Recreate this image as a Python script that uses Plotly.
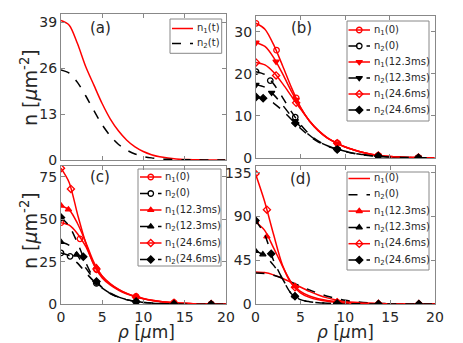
import plotly.graph_objects as go

# === Data ===
rho = list(range(0, 21))
marker_tail = [9.1, 13.7, 18.2]

# panel (a)
a_n1 = [39.5, 38.2, 33.0, 26.5, 21.2, 16.0, 11.6, 8.2, 5.6, 3.7, 2.4, 1.5, 0.9, 0.55, 0.3, 0.16, 0.08, 0.04, 0.02, 0.01, 0.0]
a_n2 = [25.5, 24.6, 22.0, 18.2, 14.0, 10.0, 6.8, 4.4, 2.8, 1.7, 1.0, 0.6, 0.33, 0.18, 0.1, 0.05, 0.03, 0.01, 0.0, 0.0, 0.0]

# panel (b)
b_n1_0 = [32.0, 30.6, 26.8, 21.8, 16.6, 12.0, 8.7, 6.4, 4.7, 3.6, 2.6, 1.9, 1.3, 0.85, 0.55, 0.35, 0.22, 0.14, 0.09, 0.05, 0.03]
b_n1_12 = [27.4, 26.5, 23.8, 19.9, 15.7, 11.9, 8.8, 6.5, 4.8, 3.6, 2.6, 1.9, 1.3, 0.85, 0.55, 0.35, 0.22, 0.14, 0.09, 0.05, 0.03]
b_n1_24 = [22.7, 22.1, 20.3, 17.6, 14.6, 11.6, 8.8, 6.5, 4.8, 3.6, 2.6, 1.9, 1.3, 0.85, 0.55, 0.35, 0.22, 0.14, 0.09, 0.05, 0.03]
b_n2_0 = [20.5, 19.8, 17.5, 14.3, 10.9, 7.9, 5.6, 4.0, 2.9, 2.2, 1.6, 1.1, 0.8, 0.55, 0.38, 0.25, 0.16, 0.1, 0.07, 0.04, 0.02]
b_n2_12 = [17.4, 16.8, 15.0, 12.5, 9.8, 7.4, 5.4, 3.9, 2.9, 2.2, 1.6, 1.1, 0.8, 0.55, 0.38, 0.25, 0.16, 0.1, 0.07, 0.04, 0.02]
b_n2_24 = [14.5, 14.1, 13.0, 11.2, 9.1, 7.0, 5.2, 3.8, 2.8, 2.1, 1.5, 1.05, 0.75, 0.52, 0.36, 0.24, 0.15, 0.1, 0.06, 0.04, 0.02]
b_mx = {'n1_0': [0, 2.3, 4.5], 'n1_12': [0, 2.25, 4.5], 'n1_24': [0, 2.25, 4.5],
        'n2_0': [0, 1.6, 4.4], 'n2_12': [0, 1.75, 4.4], 'n2_24': [0, 0.8, 4.4]}
b_my = {'n1_0': [32.0, 25.6, 14.3, 3.6, 0.6, 0.1], 'n1_12': [27.4, 22.9, 13.8, 3.5, 0.6, 0.1],
        'n1_24': [22.7, 19.6, 13.1, 3.5, 0.6, 0.1], 'n2_0': [20.5, 18.4, 9.7, 2.1, 0.45, 0.07],
        'n2_12': [17.4, 15.5, 8.8, 2.1, 0.45, 0.07], 'n2_24': [14.5, 14.2, 8.3, 2.0, 0.45, 0.07]}

# panel (c)
c_n1_0 = [48.0, 46.5, 41.5, 34.0, 23.5, 16.5, 12.0, 8.7, 6.4, 4.7, 3.4, 2.4, 1.7, 1.15, 0.8, 0.55, 0.37, 0.25, 0.17, 0.11, 0.07]
c_n1_12 = [58.0, 55.5, 47.5, 36.5, 24.5, 16.5, 11.8, 8.6, 6.3, 4.6, 3.3, 2.4, 1.7, 1.15, 0.8, 0.55, 0.37, 0.25, 0.17, 0.11, 0.07]
c_n1_24 = [80.0, 71.5, 53.0, 36.0, 23.0, 15.5, 11.2, 8.2, 6.0, 4.4, 3.2, 2.3, 1.6, 1.1, 0.78, 0.53, 0.36, 0.24, 0.16, 0.1, 0.06]
c_n2_0 = [30.2, 28.6, 24.2, 18.6, 13.5, 9.5, 6.4, 4.2, 2.7, 1.75, 1.1, 0.7, 0.45, 0.28, 0.17, 0.1, 0.06, 0.04, 0.02, 0.01, 0.0]
c_n2_12 = [36.6, 34.6, 28.6, 21.4, 14.8, 9.9, 6.5, 4.2, 2.7, 1.75, 1.1, 0.7, 0.45, 0.28, 0.17, 0.1, 0.06, 0.04, 0.02, 0.01, 0.0]
c_n2_24 = [51.0, 46.0, 36.0, 24.5, 15.0, 9.6, 6.2, 4.0, 2.6, 1.7, 1.1, 0.7, 0.45, 0.28, 0.17, 0.1, 0.06, 0.04, 0.02, 0.01, 0.0]
c_mx = {'n1_0': [0, 2.3, 4.3], 'n1_12': [0, 0.9, 4.3], 'n1_24': [0, 1.2, 4.3],
        'n2_0': [0, 1.1, 4.3], 'n2_12': [0, 1.9, 4.3], 'n2_24': [0, 2.7, 4.3]}
c_my = {'n1_0': [48.0, 38.5, 20.4, 4.6, 0.9, 0.16], 'n1_12': [58.0, 55.7, 21.8, 4.5, 0.9, 0.16],
        'n1_24': [80.0, 67.8, 20.8, 4.3, 0.9, 0.16], 'n2_0': [30.2, 28.2, 12.3, 1.6, 0.2, 0.02],
        'n2_12': [36.6, 29.2, 13.0, 1.6, 0.2, 0.02], 'n2_24': [51.0, 27.9, 13.4, 1.6, 0.2, 0.02]}

# panel (d)
d_n1_0 = [33.0, 32.3, 30.0, 26.5, 22.0, 17.5, 13.0, 9.3, 6.3, 4.2, 2.7, 1.7, 1.05, 0.65, 0.4, 0.24, 0.14, 0.08, 0.05, 0.03, 0.02]
d_n2_0 = [32.0, 31.5, 29.5, 26.5, 22.5, 18.5, 14.5, 11.0, 8.0, 5.6, 3.8, 2.5, 1.6, 1.0, 0.6, 0.36, 0.21, 0.12, 0.07, 0.04, 0.02]
d_n1_12 = [84.6, 76.0, 58.0, 39.0, 22.0, 13.0, 8.3, 5.5, 3.7, 2.5, 1.7, 1.1, 0.7, 0.45, 0.28, 0.17, 0.1, 0.06, 0.04, 0.02, 0.01]
d_n1_24 = [134.0, 106.0, 72.0, 40.0, 21.0, 11.5, 6.8, 4.3, 2.8, 1.9, 1.3, 0.85, 0.55, 0.35, 0.22, 0.14, 0.08, 0.05, 0.03, 0.02, 0.01]
d_n2_12 = [54.5, 50.0, 40.0, 26.0, 10.5, 4.5, 2.4, 1.4, 0.9, 0.6, 0.38, 0.24, 0.15, 0.09, 0.06, 0.04, 0.02, 0.01, 0.0, 0.0, 0.0]
d_n2_24 = [86.0, 72.0, 45.0, 26.0, 10.5, 4.5, 2.4, 1.4, 0.9, 0.6, 0.38, 0.24, 0.15, 0.09, 0.06, 0.04, 0.02, 0.01, 0.0, 0.0, 0.0]
d_mx = {'n1_12': [0, 1.27, 4.4], 'n1_24': [0, 1.27, 4.4], 'n2_12': [0, 0.82, 4.4], 'n2_24': [0, 1.75, 4.4]}
d_my = {'n1_12': [84.6, 69.4, 18.4, 2.3, 0.35, 0.04], 'n1_24': [134.0, 97.0, 17.2, 1.8, 0.3, 0.04],
        'n2_12': [54.5, 51.0, 8.1, 0.55, 0.06, 0.0], 'n2_24': [86.0, 51.7, 8.1, 0.55, 0.06, 0.0]}

labels = {'n1_0': 'n<sub>1</sub>(0)', 'n2_0': 'n<sub>2</sub>(0)',
          'n1_12': 'n<sub>1</sub>(12.3ms)', 'n2_12': 'n<sub>2</sub>(12.3ms)',
          'n1_24': 'n<sub>1</sub>(24.6ms)', 'n2_24': 'n<sub>2</sub>(24.6ms)',
          'n1_t': 'n<sub>1</sub>(t)', 'n2_t': 'n<sub>2</sub>(t)'}

RED = '#ff0000'
BLACK = '#000000'
FONT = 'DejaVu Sans'
TXT = '#262626'
BOX = '#888888'

# page is offset by the 8px body margin, so work in page pixels
W, H, OFF = 463, 343, 8


def fx(px):
    return (px - OFF) / W


def fy(py):
    return 1 - (py - OFF) / H


fig = go.Figure()
axes = {'a': ('x', 'y'), 'b': ('x2', 'y2'), 'c': ('x3', 'y3'), 'd': ('x4', 'y4')}
legend_items = {'a': [], 'b': [], 'c': [], 'd': []}


def style(key, symbol):
    col = RED if key.startswith('n1') else BLACK
    dash = 'solid' if col == RED else 'dash'
    mk = dict(symbol=symbol, size=5.5, color=col, line=dict(color=col, width=1.3)) if symbol else None
    return col, dash, mk


def add(panel, key, yline, symbol=None, mx=None, my=None):
    xa, ya = axes[panel]
    col, dash, mk = style(key, symbol)
    fig.add_trace(go.Scatter(x=rho, y=yline, mode='lines', xaxis=xa, yaxis=ya,
                             line=dict(color=col, width=1.5, dash=dash, shape='spline', smoothing=0.8),
                             showlegend=False, hoverinfo='skip'))
    if symbol:
        fig.add_trace(go.Scatter(x=mx + marker_tail, y=my, mode='markers', xaxis=xa, yaxis=ya,
                                 marker=mk, showlegend=False, hoverinfo='skip'))
    legend_items[panel].append((key, col, dash, mk))


add('a', 'n1_t', a_n1)
add('a', 'n2_t', a_n2)

b_sym = {'n1_0': 'circle-open', 'n2_0': 'circle-open', 'n1_12': 'triangle-down', 'n2_12': 'triangle-down',
         'n1_24': 'diamond-open', 'n2_24': 'diamond'}
for key, yl in [('n1_0', b_n1_0), ('n2_0', b_n2_0), ('n1_12', b_n1_12),
                ('n2_12', b_n2_12), ('n1_24', b_n1_24), ('n2_24', b_n2_24)]:
    add('b', key, yl, b_sym[key], b_mx[key], b_my[key])

c_sym = {'n1_0': 'circle-open', 'n2_0': 'circle-open', 'n1_12': 'triangle-up', 'n2_12': 'triangle-up',
         'n1_24': 'diamond-open', 'n2_24': 'diamond'}
for key, yl in [('n1_0', c_n1_0), ('n2_0', c_n2_0), ('n1_12', c_n1_12),
                ('n2_12', c_n2_12), ('n1_24', c_n1_24), ('n2_24', c_n2_24)]:
    add('c', key, yl, c_sym[key], c_mx[key], c_my[key])

add('d', 'n1_0', d_n1_0)
add('d', 'n2_0', d_n2_0)
d_sym = {'n1_12': 'triangle-up', 'n2_12': 'triangle-up', 'n1_24': 'diamond-open', 'n2_24': 'diamond'}
for key, yl in [('n1_12', d_n1_12), ('n2_12', d_n2_12), ('n1_24', d_n1_24), ('n2_24', d_n2_24)]:
    add('d', key, yl, d_sym[key], d_mx[key], d_my[key])

# === Legends (MATLAB-style boxes, drawn on a pixel overlay axis) ===
# panel: box (x0, y0, x1, y1), sample line x0/x1, text x, first row y, row step
leg_layout = {'a': ((170, 19, 221.7, 53.3), 172, 193, 195, 28.5, 15.0),
              'b': ((347, 21, 429, 121), 348.5, 370, 371.5, 30, 16.0),
              'c': ((138, 169, 221, 266), 140, 161.5, 163, 177, 16.5),
              'd': ((347, 172, 429, 270), 348.5, 370, 371.5, 178.5, 16.3)}
shapes = []
ann = []
for panel, (box, sx0, sx1, tx, ry0, dy) in leg_layout.items():
    shapes.append(dict(type='rect', xref='x5', yref='y5', x0=box[0], y0=box[1], x1=box[2], y1=box[3],
                       line=dict(color=BOX, width=1), fillcolor='rgba(0,0,0,0)', layer='above'))
    for i, (key, col, dash, mk) in enumerate(legend_items[panel]):
        ry = ry0 + i * dy
        fig.add_trace(go.Scatter(x=[sx0, sx1], y=[ry, ry], mode='lines', xaxis='x5', yaxis='y5',
                                 line=dict(color=col, width=1.5, dash=dash), showlegend=False, hoverinfo='skip'))
        if mk:
            fig.add_trace(go.Scatter(x=[(sx0 + sx1) / 2], y=[ry], mode='markers', xaxis='x5', yaxis='y5',
                                     marker=mk, showlegend=False, hoverinfo='skip'))
        ann.append(dict(text=labels[key], x=tx, y=ry, xref='x5', yref='y5', showarrow=False,
                        xanchor='left', yanchor='middle', font=dict(size=10, color=TXT)))


# === Axes ===
def xax(x0, x1, y_anchor, labels_on):
    return dict(domain=[fx(x0), fx(x1)], anchor=y_anchor, range=[0, 20], tickvals=[0, 5, 10, 15, 20],
                showticklabels=labels_on, ticks='inside', ticklen=4, tickcolor=BOX,
                showline=True, linecolor=BOX, linewidth=1, mirror='ticks',
                showgrid=False, zeroline=False, tickfont=dict(size=14, color=TXT), automargin=False)


def yax(y_top, y_bot, x_anchor, top, tv):
    return dict(domain=[fy(y_bot), fy(y_top)], anchor=x_anchor, range=[0, top], tickvals=tv,
                ticks='inside', ticklen=4, tickcolor=BOX,
                showline=True, linecolor=BOX, linewidth=1, mirror='ticks',
                showgrid=False, zeroline=False, tickfont=dict(size=14, color=TXT), automargin=False)


fig.update_layout(
    width=W, height=H, margin=dict(l=0, r=0, t=0, b=0),
    paper_bgcolor='white', plot_bgcolor='rgba(0,0,0,0)',
    font=dict(family=FONT, color=TXT), showlegend=False,
    xaxis=xax(61, 225.5, 'y', False), yaxis=yax(13.5, 160, 'x', 41.5, [0, 13, 26, 39]),
    xaxis2=xax(256, 434.5, 'y2', False), yaxis2=yax(15.7, 158, 'x2', 33.8, [0, 10, 20, 30]),
    xaxis3=xax(61, 226, 'y3', True), yaxis3=yax(166, 304.3, 'x3', 81.3, [0, 25, 50, 75]),
    xaxis4=xax(255.5, 435, 'y4', True), yaxis4=yax(166, 304, 'x4', 142, [0, 45, 90, 135]),
    xaxis5=dict(domain=[0, 1], anchor='y5', range=[OFF, OFF + W], visible=False, fixedrange=True),
    yaxis5=dict(domain=[0, 1], anchor='x5', range=[OFF + H, OFF], visible=False, fixedrange=True),
)

# === Text ===
for txt, px, py in [('(a)', 100, 28), ('(b)', 301.7, 28.3), ('(c)', 100, 176.7), ('(d)', 300, 179.3)]:
    ann.append(dict(text=txt, x=fx(px), y=fy(py), xref='paper', yref='paper', showarrow=False,
                    xanchor='center', yanchor='middle', font=dict(size=15, color=TXT)))
for py in [88, 231]:
    ann.append(dict(text='n [<i>μ</i>m<sup>-2</sup>]', x=fx(29), y=fy(py), xref='paper', yref='paper',
                    showarrow=False, textangle=-90, xanchor='center', yanchor='middle',
                    font=dict(size=19, color=TXT)))
for px in [146, 345]:
    ann.append(dict(text='<i>ρ</i> [<i>μ</i>m]', x=fx(px), y=fy(332), xref='paper', yref='paper',
                    showarrow=False, xanchor='center', yanchor='middle', font=dict(size=17, color=TXT)))
fig.update_layout(annotations=ann, shapes=shapes)

fig.write_html("out.html")
